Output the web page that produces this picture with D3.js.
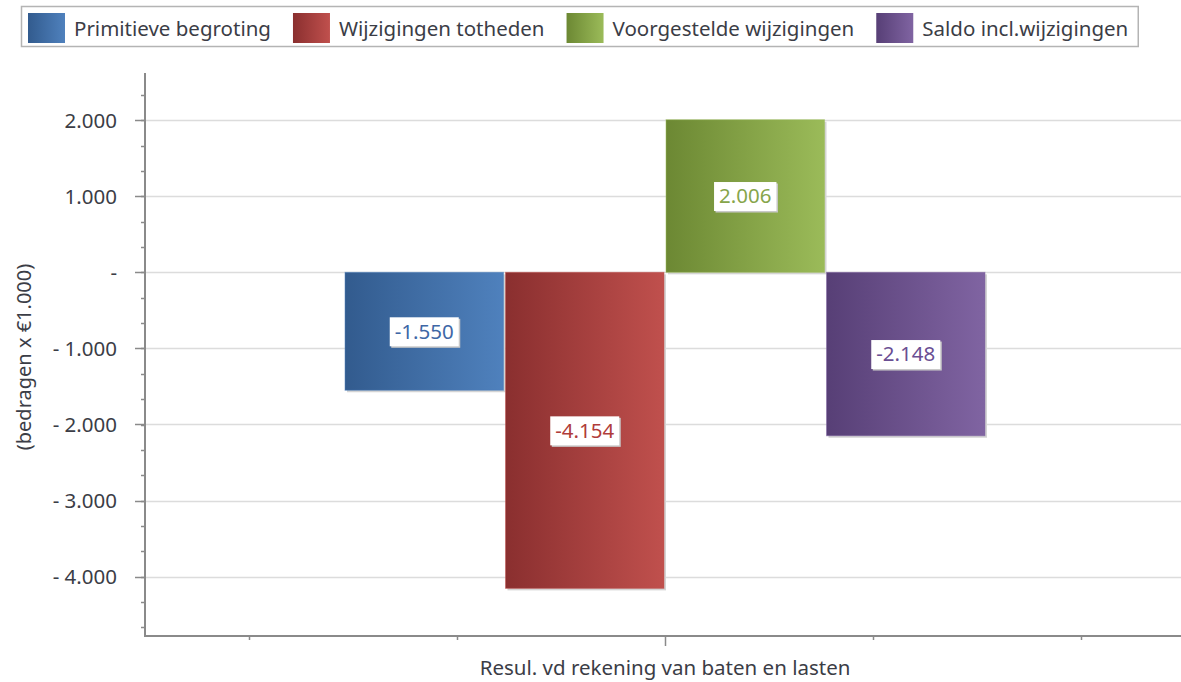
<!DOCTYPE html>
<html>
<head>
<meta charset="utf-8">
<script src="https://cdn.jsdelivr.net/npm/d3@7"></script>
<style>
	body { margin: 0; background: #fff; }
	svg text { font-family: "Noto Sans", sans-serif; }
</style>
</head>
<body>
<div id="chart"></div>
<script>
// Data
var categories = ["Resul. vd rekening van baten en lasten"];
var seriesNames = ["Primitieve begroting", "Wijzigingen totheden", "Voorgestelde wijzigingen", "Saldo incl.wijzigingen"];
var seriesValues = [-1550, -4154, 2006, -2148];
var valueLabels = ["-1.550", "-4.154", "2.006", "-2.148"];
var yTickValues = [-4000, -3000, -2000, -1000, 0, 1000, 2000];
var yTickLabels = ["- 4.000", "- 3.000", "- 2.000", "- 1.000", "-", "1.000", "2.000"];
var yTitle = "(bedragen x \u20ac1.000)";

// Colours per series: dark (left) -> light (right), label text
var colDark = ["#325b8e", "#8a2f2f", "#6c8833", "#573f76"];
var colLight = ["#4f81bd", "#c0504d", "#9bbb59", "#8064a2"];
var colText = ["#3e67a6", "#b03c3a", "#86a54a", "#6a4e93"];
var textCol = "#3b3d46";

var width = 1181, height = 682;
var plot = {left: 145, right: 1185, top: 73, bottom: 636};

var svg = d3.select("#chart").append("svg")
	.attr("width", width)
	.attr("height", height);

var defs = svg.append("defs");
seriesNames.forEach(function(s, i) {
	var g = defs.append("linearGradient")
		.attr("id", "grad_" + i)
		.attr("x1", "0").attr("x2", "1")
		.attr("y1", "0").attr("y2", "0");
	g.append("stop").attr("offset", "0%").attr("stop-color", colDark[i]);
	g.append("stop").attr("offset", "100%").attr("stop-color", colLight[i]);
});

// Scales
var y = d3.scaleLinear()
	.domain([-4780, 2620])
	.range([plot.bottom, plot.top]);

var x0 = d3.scaleBand()
	.domain(categories)
	.range([plot.left, plot.right])
	.paddingOuter(0.3125)
	.paddingInner(0);

var x1 = d3.scaleBand()
	.domain(seriesNames)
	.range([0, x0.bandwidth()])
	.paddingInner(0.0125);

// positions of the category axis ticks (5 equal parts)
var xt = d3.scaleLinear().domain([-0.5, 0.5]).range([plot.left, plot.right]);

// Gridlines
svg.append("g").selectAll("line")
	.data(yTickValues)
	.enter().append("line")
	.attr("x1", plot.left).attr("x2", plot.right)
	.attr("y1", function(d) { return Math.round(y(d)) + 0.5; })
	.attr("y2", function(d) { return Math.round(y(d)) + 0.5; })
	.attr("stroke", "#dcdcdc")
	.attr("stroke-width", 1.5);

// Bars
var bars = svg.append("g").attr("class", "bars");
seriesNames.forEach(function(s, i) {
	var v = seriesValues[i];
	var bx = x0(categories[0]) + x1(s);
	var by = y(Math.max(0, v));
	var bh = Math.abs(y(v) - y(0));
	// soft shadow
	bars.append("rect")
		.attr("x", bx + 2).attr("y", by + 2)
		.attr("width", x1.bandwidth()).attr("height", bh)
		.attr("fill", "#d4d4d4");
	bars.append("rect")
		.attr("x", bx).attr("y", by)
		.attr("width", x1.bandwidth()).attr("height", bh)
		.attr("fill", "url(#grad_" + i + ")")
		.attr("stroke", colLight[i])
		.attr("stroke-opacity", 0.5)
		.attr("stroke-width", 1);
});

// Value labels
seriesNames.forEach(function(s, i) {
	var v = seriesValues[i];
	var cx = x0(categories[0]) + x1(s) + x1.bandwidth() / 2;
	var cy = (y(v) + y(0)) / 2;
	var g = svg.append("g").attr("transform", "translate(" + cx + "," + cy + ")");
	var t = g.append("text")
		.attr("text-anchor", "middle")
		.attr("dy", "0.36em")
		.attr("font-size", 20.5)
		.attr("fill", colText[i])
		.text(valueLabels[i]);
	var w = t.node().getComputedTextLength() + 10;
	g.insert("rect", "text")
		.attr("x", -w / 2 + 1.5).attr("y", -14 + 1.5)
		.attr("width", w).attr("height", 29)
		.attr("fill", "#c8c8c8");
	g.insert("rect", "text")
		.attr("x", -w / 2).attr("y", -14)
		.attr("width", w).attr("height", 29)
		.attr("fill", "#fff");
});

// Y axis
var yMinor = d3.range(-4667, 2500, 1000 / 3).map(function(d) { return Math.round(d * 3) / 3; });
var yAxis = svg.append("g").attr("class", "y-axis");
yAxis.selectAll("line.minor")
	.data(yMinor)
	.enter().append("line")
	.attr("class", "minor")
	.attr("x1", plot.left - 4).attr("x2", plot.left)
	.attr("y1", function(d) { return Math.round(y(d)) + 0.5; })
	.attr("y2", function(d) { return Math.round(y(d)) + 0.5; })
	.attr("stroke", "#8a8a8a").attr("stroke-width", 1.5);
yAxis.selectAll("line.major")
	.data(yTickValues)
	.enter().append("line")
	.attr("class", "major")
	.attr("x1", plot.left - 10).attr("x2", plot.left)
	.attr("y1", function(d) { return Math.round(y(d)) + 0.5; })
	.attr("y2", function(d) { return Math.round(y(d)) + 0.5; })
	.attr("stroke", "#8a8a8a").attr("stroke-width", 1.5);
yAxis.selectAll("text")
	.data(yTickValues)
	.enter().append("text")
	.attr("x", plot.left - 28)
	.attr("y", function(d) { return y(d); })
	.attr("dy", "0.36em")
	.attr("text-anchor", "end")
	.attr("font-size", 20.5)
	.attr("fill", textCol)
	.text(function(d, i) { return yTickLabels[i]; });
yAxis.append("line")
	.attr("x1", plot.left).attr("x2", plot.left)
	.attr("y1", plot.top).attr("y2", plot.bottom + 1)
	.attr("stroke", "#8a8a8a").attr("stroke-width", 2);

svg.append("text")
	.attr("transform", "translate(31," + 357 + ") rotate(-90)")
	.attr("text-anchor", "middle")
	.attr("font-size", 20)
	.attr("fill", textCol)
	.text(yTitle);

// X axis
var xTicks = [-0.4, -0.2, 0, 0.2, 0.4];
var xAxis = svg.append("g").attr("class", "x-axis");
xAxis.append("line")
	.attr("x1", plot.left - 1).attr("x2", plot.right)
	.attr("y1", plot.bottom).attr("y2", plot.bottom)
	.attr("stroke", "#8a8a8a").attr("stroke-width", 2);
xAxis.selectAll("line.tick")
	.data(xTicks)
	.enter().append("line")
	.attr("class", "tick")
	.attr("x1", function(d) { return Math.round(xt(d)) + 0.5; })
	.attr("x2", function(d) { return Math.round(xt(d)) + 0.5; })
	.attr("y1", plot.bottom)
	.attr("y2", function(d) { return d === 0 ? plot.bottom + 10 : plot.bottom + 4; })
	.attr("stroke", "#8a8a8a").attr("stroke-width", 1.5);
xAxis.append("text")
	.attr("x", x0(categories[0]) + x0.bandwidth() / 2)
	.attr("y", 675)
	.attr("text-anchor", "middle")
	.attr("font-size", 20.5)
	.attr("fill", textCol)
	.text(categories[0]);

// Legend
var legend = svg.append("g").attr("class", "legend");
var legendBox = legend.append("rect")
	.attr("x", 21.5).attr("y", 6.5)
	.attr("height", 40)
	.attr("fill", "#fff")
	.attr("stroke", "#b4b4b4")
	.attr("stroke-width", 1.5);
var lx = 28;
seriesNames.forEach(function(s, i) {
	legend.append("rect")
		.attr("x", lx).attr("y", 13)
		.attr("width", 37).attr("height", 30)
		.attr("fill", "url(#grad_" + i + ")");
	var t = legend.append("text")
		.attr("x", lx + 46).attr("y", 36)
		.attr("font-size", 20.5)
		.attr("fill", textCol)
		.text(s);
	lx = lx + 46 + t.node().getComputedTextLength() + 22;
});
legendBox.attr("width", lx - 22 + 10 - 21.5);
</script>
</body>
</html>
